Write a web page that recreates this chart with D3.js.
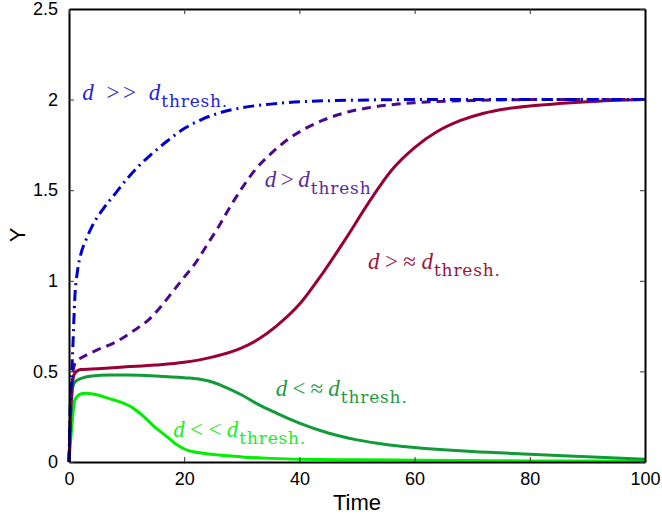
<!DOCTYPE html>
<html>
<head>
<meta charset="utf-8">
<script src="https://cdn.jsdelivr.net/npm/d3@7"></script>
<style>
  body { margin: 0; background: #fff; }
  svg { display: block; }
  .tick text { font-family: "Liberation Sans", Arial, sans-serif; }
</style>
</head>
<body>
<div id="chart"></div>
<script>
// series: time and value
const tBlue = [0, 0.2, 0.5, 0.7, 1, 1.5, 2, 3, 4, 6, 8, 10, 12, 14, 17, 20, 23, 26, 30, 35, 40, 50, 60, 80, 100];
const yBlue = [0, 0.3, 0.51, 0.66, 0.9, 1.06, 1.14, 1.23, 1.3, 1.4, 1.48, 1.56, 1.63, 1.69, 1.77, 1.84, 1.89, 1.925, 1.955, 1.975, 1.988, 1.997, 2, 2, 2];

const tPurple = [0, 0.3, 0.7, 1, 1.5, 3, 5, 8, 11, 14, 16, 18, 20, 22, 24, 26, 28, 30, 32, 35, 38, 41, 44, 48, 52, 56, 60, 70, 80, 100];
const yPurple = [0, 0.3, 0.5, 0.54, 0.56, 0.59, 0.62, 0.66, 0.72, 0.79, 0.86, 0.94, 1.02, 1.1, 1.2, 1.3, 1.41, 1.51, 1.6, 1.7, 1.78, 1.84, 1.885, 1.928, 1.955, 1.972, 1.983, 1.995, 2, 2];

const tRed = [0, 0.3, 0.7, 1, 2, 5, 10, 15, 20, 25, 30, 33, 36, 40, 44, 48, 52, 56, 60, 64, 68, 72, 76, 80, 85, 90, 100];
const yRed = [0, 0.3, 0.46, 0.49, 0.51, 0.515, 0.525, 0.535, 0.55, 0.58, 0.63, 0.68, 0.75, 0.87, 1.04, 1.23, 1.43, 1.61, 1.735, 1.825, 1.885, 1.925, 1.95, 1.965, 1.978, 1.988, 2];

const tDkGreen = [0, 0.3, 0.7, 1, 2, 4, 7, 10, 15, 20, 23, 25, 27, 30, 33, 36, 40, 45, 50, 55, 60, 65, 70, 80, 90, 100];
const yDkGreen = [0, 0.25, 0.42, 0.44, 0.46, 0.475, 0.48, 0.48, 0.475, 0.465, 0.455, 0.44, 0.415, 0.37, 0.315, 0.27, 0.215, 0.16, 0.122, 0.097, 0.08, 0.068, 0.058, 0.043, 0.029, 0.015];

const tGreen = [0, 0.5, 1, 2, 3, 5, 7, 9, 11, 13, 15, 17, 19, 20.5, 23, 26, 30, 35, 40, 50, 60, 70, 80, 90, 100];
const yGreen = [0, 0.2, 0.34, 0.375, 0.38, 0.37, 0.35, 0.33, 0.3, 0.25, 0.19, 0.14, 0.09, 0.066, 0.05, 0.038, 0.028, 0.02, 0.015, 0.012, 0.01, 0.008, 0.006, 0.005, 0.004];

const xTicks = [0, 20, 40, 60, 80, 100];
const yTicks = [0, 0.5, 1, 1.5, 2, 2.5];

// label text pieces and anchor (in data units)
const labelRel = [" >> ", ">", ">\u2248", "<\u2248", "<<"];
const labelT = [2.3, 34, 51.9, 35.9, 18.1];
const labelY = [2.0, 1.52, 1.065, 0.364, 0.138];

const W = 662, H = 519;
const margin = {left: 69, right: 17, top: 9, bottom: 57};

const svg = d3.select('#chart').append('svg')
    .attr('width', W)
    .attr('height', H);

const x = d3.scaleLinear().domain([0, 100]).range([margin.left, W - margin.right]);
const y = d3.scaleLinear().domain([0, 2.5]).range([H - margin.bottom, margin.top]);

const series = [
    {t: tGreen, v: yGreen, color: '#00ee00', dash: null},
    {t: tDkGreen, v: yDkGreen, color: '#109a38', dash: null},
    {t: tRed, v: yRed, color: '#990033', dash: null},
    {t: tPurple, v: yPurple, color: '#4b0a8c', dash: '9,6'},
    {t: tBlue, v: yBlue, color: '#0000cc', dash: '11,5,2,5'}
];

const line = d3.line()
    .x(d => x(d[0]))
    .y(d => y(d[1]))
    .curve(d3.curveMonotoneX);

const plot = svg.append('g');
series.forEach(s => {
    plot.append('path')
        .datum(s.t.map((t, i) => [t, s.v[i]]))
        .attr('d', line)
        .attr('fill', 'none')
        .attr('stroke', s.color)
        .attr('stroke-width', 3)
        .attr('stroke-dasharray', s.dash);
});

// axes, MATLAB style: ticks inward on all four sides
const fs = 18;
svg.append('g').attr('transform', `translate(0,${y(0)})`)
    .call(d3.axisBottom(x).tickValues(xTicks).tickSizeInner(-5).tickSizeOuter(0).tickPadding(10));
svg.append('g').attr('transform', `translate(${x(0)},0)`)
    .call(d3.axisLeft(y).tickValues(yTicks).tickSizeInner(-5).tickSizeOuter(0).tickPadding(11).tickFormat(d3.format('')));
svg.append('g').attr('transform', `translate(0,${y(2.5)})`)
    .call(d3.axisTop(x).tickValues(xTicks).tickSizeInner(-5).tickSizeOuter(0).tickFormat(''));
svg.append('g').attr('transform', `translate(${x(100)},0)`)
    .call(d3.axisRight(y).tickValues(yTicks).tickSizeInner(-5).tickSizeOuter(0).tickFormat(''));

svg.selectAll('.domain').attr('stroke', '#000').attr('stroke-width', 2);
svg.selectAll('.tick line').attr('stroke', '#333').attr('stroke-width', 1);
svg.selectAll('.tick text').attr('font-size', fs).attr('fill', '#000');

svg.append('text')
    .attr('x', (x(0) + x(100)) / 2)
    .attr('y', 510)
    .attr('text-anchor', 'middle')
    .attr('font-family', '"Liberation Sans", Arial, sans-serif')
    .attr('font-size', 22)
    .text('Time');

svg.append('text')
    .attr('transform', 'translate(25,235) rotate(-90)')
    .attr('text-anchor', 'middle')
    .attr('font-family', '"Liberation Sans", Arial, sans-serif')
    .attr('font-size', 22)
    .text('Y');

// curve labels: "d rel d" then the subscript, stretched to the widths seen
const labelColor = ['#2323d8', '#5a2a9a', '#99143c', '#1e9a40', '#20ee20'];
const mainWidth = [78, 45, 65, 64, 65];
labelRel.forEach((rel, i) => {
    const x0 = x(labelT[i]), y0 = y(labelY[i]);
    const txt = svg.append('text')
        .attr('x', x0)
        .attr('y', y0)
        .attr('fill', labelColor[i])
        .attr('font-family', '"Liberation Serif", "DejaVu Serif", serif')
        .attr('font-size', 23)
        .attr('textLength', mainWidth[i])
        .attr('lengthAdjust', 'spacing');
    txt.append('tspan').attr('font-style', 'italic').text('d');
    txt.append('tspan').text(rel);
    txt.append('tspan').attr('font-style', 'italic').text('d');
    svg.append('text')
        .attr('x', x0 + mainWidth[i] + 1)
        .attr('y', y0 + 7)
        .attr('fill', labelColor[i])
        .attr('font-family', '"DejaVu Serif", serif')
        .attr('font-size', 17)
        .attr('textLength', 66)
        .attr('lengthAdjust', 'spacing')
        .text('thresh.');
});
</script>
</body>
</html>
